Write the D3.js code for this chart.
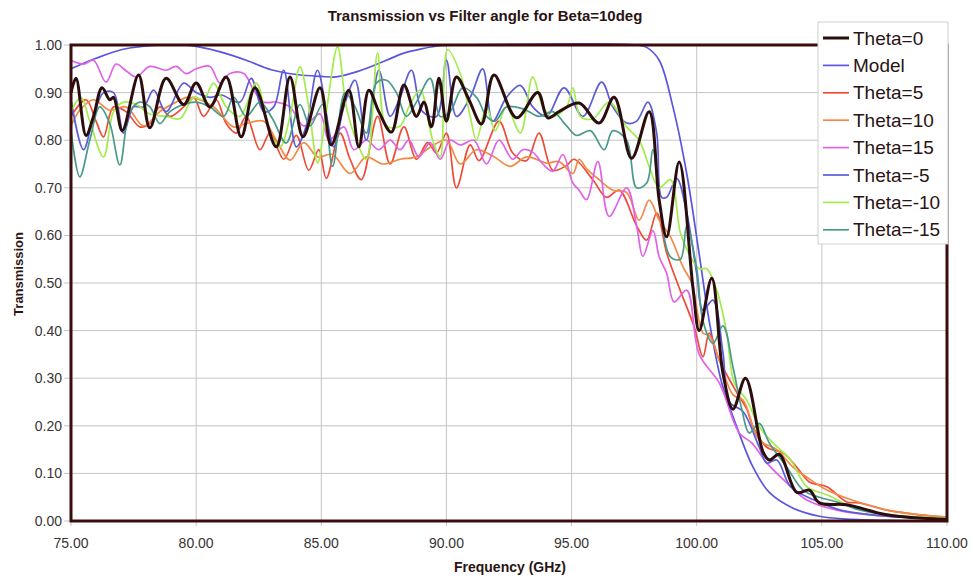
<!DOCTYPE html>
<html>
<head>
<meta charset="utf-8">
<script src="https://cdn.jsdelivr.net/npm/d3@7"></script>
<style>
  body { margin: 0; background: #fff; }
  text { font-family: "Liberation Sans", Arial, sans-serif; }
</style>
</head>
<body>
<svg id="plot" width="973" height="581"></svg>
<script>
// series: [frequency GHz, transmission]
var model = [[75,0.95],[76,0.972],[77,0.99],[78,0.998],[78.6,1.0],[79.5,1.0],[80,0.997],[81,0.985],[82,0.968],[83,0.948],[84,0.938],[85,0.934],[85.6,0.933],[86.3,0.942],[87,0.955],[87.6,0.968],[88.3,0.983],[89,0.992],[89.8,0.999],[90.5,1.0],[97.6,1.0],[98,0.995],[98.5,0.968],[99.05,0.87],[99.6,0.73],[100.1,0.56],[100.5,0.42],[101,0.29],[101.6,0.198],[102.25,0.113],[102.9,0.06],[103.85,0.027],[104.9,0.01],[106,0.004],[108,0.001],[110,0]];

var theta0 = [[75,0.9],[75.2,0.93],[75.6,0.81],[75.9,0.85],[76.24,0.91],[76.55,0.885],[76.7,0.89],[77.05,0.82],[77.7,0.937],[78.15,0.826],[78.8,0.93],[79.5,0.875],[80,0.92],[80.55,0.87],[81.2,0.933],[81.8,0.807],[82.35,0.91],[83.2,0.786],[83.75,0.933],[84.27,0.807],[84.95,0.91],[85.4,0.79],[86.1,0.905],[86.5,0.786],[86.9,0.905],[87.3,0.86],[87.8,0.817],[88.3,0.916],[88.8,0.85],[89.1,0.88],[89.4,0.828],[89.7,0.93],[90,0.84],[90.4,0.933],[90.9,0.885],[91.4,0.834],[91.9,0.937],[92.8,0.847],[93.65,0.9],[94.05,0.847],[94.5,0.86],[95.3,0.878],[96.1,0.836],[96.7,0.89],[97.4,0.762],[98.1,0.86],[98.5,0.674],[98.8,0.597],[99.3,0.754],[99.85,0.49],[100.1,0.4],[100.6,0.51],[101.05,0.31],[101.45,0.235],[101.95,0.3],[102.65,0.145],[102.9,0.128],[103.3,0.14],[104,0.06],[104.5,0.065],[104.9,0.038],[106,0.034],[107.6,0.013],[110,0.003]];

var theta5 = [[75,0.85],[75.6,0.885],[76,0.84],[76.3,0.807],[76.7,0.87],[77.2,0.86],[77.75,0.828],[78.15,0.835],[78.55,0.87],[78.95,0.85],[79.5,0.87],[79.9,0.89],[80.3,0.85],[80.8,0.885],[81.2,0.835],[81.6,0.815],[82,0.85],[82.55,0.78],[82.95,0.815],[83.5,0.76],[84,0.81],[84.5,0.737],[84.9,0.78],[85.2,0.72],[85.75,0.815],[86.15,0.76],[86.6,0.717],[87.25,0.85],[87.75,0.75],[88.3,0.828],[88.8,0.76],[89.25,0.795],[89.6,0.773],[90,0.815],[90.4,0.7],[90.95,0.79],[91.3,0.757],[92.1,0.84],[92.65,0.773],[93.2,0.757],[93.7,0.815],[94.25,0.737],[94.8,0.747],[95.1,0.76],[95.85,0.717],[96.4,0.68],[96.9,0.695],[97.6,0.62],[98,0.59],[98.4,0.647],[98.8,0.563],[99.3,0.49],[99.9,0.408],[100.25,0.345],[100.5,0.395],[100.9,0.338],[101.6,0.27],[102,0.235],[102.25,0.198],[102.8,0.155],[103.45,0.143],[104,0.113],[104.5,0.082],[105.2,0.072],[106,0.04],[106.5,0.038],[107.6,0.023],[108.9,0.013],[110,0.008]];

var theta10 = [[75,0.83],[75.35,0.863],[75.9,0.885],[76.55,0.863],[77.2,0.87],[77.9,0.83],[78.55,0.86],[79.2,0.88],[79.65,0.89],[80.15,0.885],[80.7,0.87],[81.5,0.828],[82,0.835],[82.7,0.84],[83.2,0.8],[83.75,0.758],[84.3,0.795],[84.85,0.765],[85.45,0.77],[86.15,0.73],[86.8,0.765],[87.45,0.75],[88.15,0.76],[88.8,0.765],[89.35,0.785],[90,0.8],[90.55,0.75],[91.2,0.78],[91.9,0.765],[92.55,0.745],[93.2,0.765],[94,0.752],[94.5,0.755],[95.05,0.73],[95.3,0.76],[95.6,0.74],[96.1,0.717],[96.65,0.695],[97.2,0.69],[97.7,0.632],[98.1,0.674],[98.5,0.632],[98.95,0.597],[99.45,0.534],[99.8,0.5],[100.25,0.395],[100.5,0.39],[100.9,0.338],[101.45,0.265],[101.85,0.254],[102.5,0.17],[103.2,0.15],[103.85,0.113],[104.4,0.092],[105.2,0.065],[106.2,0.044],[107.6,0.023],[110,0.008]];

var theta15 = [[75,0.968],[75.5,0.96],[75.9,0.968],[76.4,0.922],[76.8,0.96],[77.2,0.946],[77.6,0.933],[78.15,0.955],[78.8,0.947],[79.2,0.955],[79.6,0.94],[80,0.95],[80.55,0.955],[80.95,0.92],[81.35,0.94],[81.9,0.94],[82.3,0.905],[82.7,0.88],[83.2,0.88],[83.75,0.87],[84.3,0.83],[84.95,0.855],[85.3,0.8],[85.9,0.828],[86.3,0.78],[86.8,0.8],[87.3,0.78],[87.75,0.8],[88.15,0.78],[88.5,0.8],[88.9,0.765],[89.35,0.795],[89.75,0.76],[90.15,0.8],[90.55,0.79],[91.1,0.8],[91.6,0.75],[92.1,0.8],[92.65,0.76],[93.05,0.78],[93.45,0.775],[93.85,0.75],[94.25,0.735],[94.65,0.77],[95.05,0.71],[95.3,0.695],[95.6,0.675],[96.05,0.755],[96.5,0.64],[97.2,0.7],[97.6,0.62],[97.85,0.556],[98.25,0.61],[98.5,0.555],[98.8,0.52],[99.1,0.46],[99.6,0.485],[100.1,0.35],[100.9,0.29],[101.7,0.185],[102.2,0.164],[102.8,0.122],[103.6,0.08],[104.4,0.044],[105.6,0.023],[107.6,0.01],[110,0.005]];

var thetaM5 = [[75,0.885],[75.5,0.78],[75.9,0.85],[76.3,0.9],[76.7,0.9],[77.1,0.815],[77.5,0.87],[77.9,0.87],[78.3,0.905],[78.8,0.86],[79.5,0.92],[80,0.9],[80.55,0.89],[81,0.895],[81.75,0.88],[82.2,0.93],[82.7,0.86],[83.1,0.87],[83.5,0.947],[84,0.786],[84.4,0.83],[84.85,0.947],[85.5,0.786],[85.9,0.87],[86.35,0.926],[86.8,0.8],[87.3,0.947],[87.75,0.85],[88.15,0.89],[88.6,0.947],[89.05,0.86],[89.6,0.85],[90,0.968],[90.4,0.85],[90.95,0.89],[91.45,0.95],[91.85,0.84],[92.4,0.89],[92.95,0.915],[93.45,0.87],[94,0.85],[94.7,0.91],[95.45,0.85],[96.2,0.922],[96.65,0.87],[97.2,0.836],[97.6,0.84],[98.05,0.88],[98.4,0.815],[98.6,0.68],[98.8,0.68],[99.2,0.72],[99.6,0.647],[100,0.52],[100.25,0.443],[100.65,0.464],[101.05,0.353],[101.3,0.25],[101.85,0.23],[102.5,0.155],[102.8,0.122],[103.2,0.128],[103.75,0.072],[104.7,0.044],[105.75,0.023],[107.6,0.01],[110,0.004]];

var thetaM10 = [[75,0.86],[75.4,0.89],[75.75,0.84],[76.3,0.765],[76.7,0.86],[77.1,0.88],[77.6,0.875],[78.15,0.855],[78.8,0.85],[79.35,0.845],[79.9,0.89],[80.3,0.885],[80.7,0.92],[81.2,0.87],[81.75,0.85],[82.4,0.92],[82.95,0.815],[83.35,0.786],[83.75,0.85],[84.15,0.954],[84.5,0.87],[84.85,0.752],[85.2,0.86],[85.65,0.996],[86,0.87],[86.4,0.8],[86.8,0.76],[87.25,0.983],[87.6,0.83],[88.15,0.83],[88.5,0.87],[88.95,0.905],[89.45,0.8],[89.75,0.765],[90.05,0.99],[90.55,0.94],[90.95,0.85],[91.2,0.8],[91.6,0.87],[91.95,0.82],[92.4,0.87],[92.95,0.815],[93.45,0.933],[93.85,0.87],[94.25,0.85],[94.8,0.87],[95.05,0.91],[95.35,0.85],[95.85,0.845],[96.5,0.88],[97.2,0.828],[97.7,0.8],[98.1,0.745],[98.5,0.7],[98.95,0.717],[99.35,0.605],[99.75,0.555],[100.1,0.53],[100.4,0.53],[100.8,0.485],[101.2,0.395],[101.5,0.29],[102,0.254],[102.5,0.198],[103.05,0.164],[103.75,0.128],[104.4,0.072],[105.2,0.055],[106.2,0.03],[107.6,0.014],[110,0.006]];

var thetaM15 = [[75,0.82],[75.35,0.723],[75.75,0.8],[76.15,0.87],[76.55,0.835],[76.95,0.748],[77.35,0.86],[77.75,0.88],[78.15,0.87],[78.55,0.835],[78.95,0.86],[79.5,0.875],[80,0.88],[80.55,0.87],[81.1,0.85],[81.5,0.89],[82,0.85],[82.55,0.88],[83.05,0.845],[83.6,0.794],[84.15,0.875],[84.55,0.83],[85.05,0.875],[85.45,0.745],[85.95,0.9],[86.35,0.87],[86.8,0.815],[87.2,0.92],[87.6,0.926],[88,0.9],[88.4,0.85],[88.8,0.88],[89.35,0.93],[89.75,0.85],[90.15,0.86],[90.65,0.91],[91.2,0.89],[91.6,0.85],[91.95,0.84],[92.4,0.87],[93.1,0.865],[93.7,0.85],[94.25,0.86],[94.8,0.83],[95.2,0.81],[95.75,0.82],[96.3,0.78],[96.65,0.82],[97.2,0.8],[97.6,0.7],[98,0.71],[98.25,0.78],[98.5,0.68],[98.95,0.555],[99.35,0.55],[99.6,0.62],[100,0.53],[100.25,0.42],[100.65,0.373],[101.05,0.41],[101.45,0.323],[101.8,0.235],[102.1,0.185],[102.5,0.205],[102.9,0.164],[103.6,0.113],[104.25,0.065],[104.9,0.05],[105.6,0.04],[106.5,0.023],[108,0.01],[110,0.005]];

var names = ["Theta=0", "Model", "Theta=5", "Theta=10", "Theta=15", "Theta=-5", "Theta=-10", "Theta=-15"];
var xTicks = [75, 80, 85, 90, 95, 100, 105, 110];
var yTicks = [0, 0.1, 0.2, 0.3, 0.4, 0.5, 0.6, 0.7, 0.8, 0.9, 1.0];

var svg = d3.select("#plot"),
    margin = {top: 45, right: 26, bottom: 60, left: 71},
    width = +svg.attr("width") - margin.left - margin.right,
    height = +svg.attr("height") - margin.top - margin.bottom;

var x = d3.scaleLinear().domain([75, 110]).range([0, width]),
    y = d3.scaleLinear().domain([0, 1]).range([height, 0]);

var colors = ["#2b0d0d", "#5a55e0", "#f04a36", "#f28a46", "#e062e6", "#5c5cd8", "#a2ec4c", "#4a9a8a"];
var seriesData = [theta0, model, theta5, theta10, theta15, thetaM5, thetaM10, thetaM15];

var series = names.map(function(n, i) {
    return {name: n, data: seriesData[i], color: colors[i], w: i == 0 ? 3 : 1.7};
});

var g = svg.append("g")
    .attr("transform", "translate(" + margin.left + "," + margin.top + ")");

// grid
g.append("g").selectAll("line").data(yTicks).enter().append("line")
    .attr("x1", -7).attr("x2", width)
    .attr("y1", function(d) { return y(d); }).attr("y2", function(d) { return y(d); })
    .attr("stroke", "#c4c4c4").attr("stroke-width", 1);
g.append("g").selectAll("line").data(xTicks).enter().append("line")
    .attr("x1", function(d) { return x(d); }).attr("x2", function(d) { return x(d); })
    .attr("y1", 0).attr("y2", height + 5)
    .attr("stroke", "#c4c4c4").attr("stroke-width", 1);

// tick labels
g.append("g").selectAll("text").data(yTicks).enter().append("text")
    .attr("x", -9).attr("y", function(d) { return y(d); })
    .attr("dy", "0.35em").attr("text-anchor", "end")
    .style("font-size", "14px").style("fill", "#3a3333")
    .text(function(d) { return d3.format(".2f")(d); });
g.append("g").selectAll("text").data(xTicks).enter().append("text")
    .attr("x", function(d) { return x(d); }).attr("y", height + 27)
    .attr("text-anchor", "middle")
    .style("font-size", "14px").style("fill", "#3a3333")
    .text(function(d) { return d3.format(".2f")(d); });

var line = d3.line()
    .x(function(d) { return x(d[0]); })
    .y(function(d) { return y(d[1]); })
    .curve(d3.curveCatmullRom.alpha(0.5));

// thin series first, Theta=0 last so it sits on top
var order = series.slice(1).concat([series[0]]);
g.append("g").selectAll("path").data(order).enter().append("path")
    .attr("d", function(d) { return line(d.data); })
    .attr("fill", "none")
    .attr("stroke", function(d) { return d.color; })
    .attr("stroke-width", function(d) { return d.w; })
    .attr("stroke-linejoin", "round");

// plot frame
g.append("rect")
    .attr("x", 0).attr("y", 0).attr("width", width).attr("height", height)
    .attr("fill", "none").attr("stroke", "#3a0c0c").attr("stroke-width", 3);

// titles
svg.append("text")
    .attr("x", 485).attr("y", 21).attr("text-anchor", "middle")
    .style("font-size", "15px").style("font-weight", "bold").style("fill", "#2a1414")
    .text("Transmission vs Filter angle for Beta=10deg");
svg.append("text")
    .attr("x", 510).attr("y", 572).attr("text-anchor", "middle")
    .style("font-size", "14px").style("font-weight", "bold").style("fill", "#2a1414")
    .text("Frequency (GHz)");
svg.append("text")
    .attr("transform", "translate(23,274) rotate(-90)")
    .attr("text-anchor", "middle")
    .style("font-size", "13px").style("font-weight", "bold").style("fill", "#2a1414")
    .text("Transmission");

// legend
var legend = svg.append("g").attr("transform", "translate(818,22)");
legend.append("rect")
    .attr("width", 130).attr("height", 222)
    .attr("fill", "#fff").attr("stroke", "#cfcfcf").attr("stroke-width", 1);
var item = legend.selectAll("g").data(series).enter().append("g")
    .attr("transform", function(d, i) { return "translate(0," + (16 + i * 27.4) + ")"; });
item.append("line")
    .attr("x1", 5).attr("x2", 31)
    .attr("stroke", function(d) { return d.color; })
    .attr("stroke-width", function(d) { return d.w; });
item.append("text")
    .attr("x", 35).attr("dy", "0.35em")
    .style("font-size", "19px").style("fill", "#2a1414")
    .text(function(d) { return d.name; });
</script>
</body>
</html>
